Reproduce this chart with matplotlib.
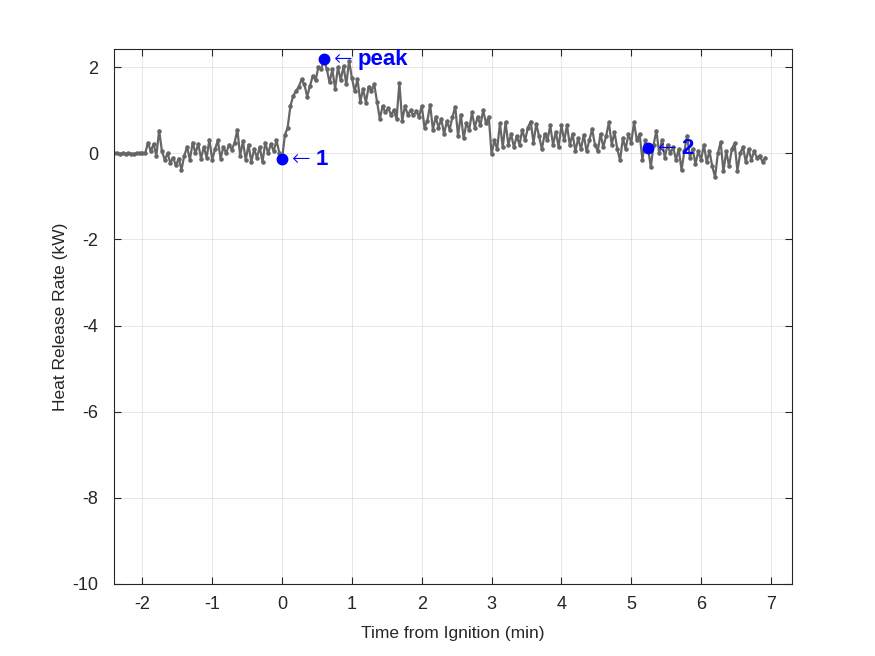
import numpy as np
import matplotlib.pyplot as plt

plt.rcParams['font.family'] = ['Liberation Sans', 'DejaVu Sans']
plt.rcParams['axes.unicode_minus'] = False

# sampling of the record (min)
t_start = -2.40
dt = 0.04

# heat release rate (kW), split by time span
hrr_pre = [0.0, 0.0, -0.01, 0.0, -0.01, 0.0, -0.01, -0.01, 0.0, 0.0, 0.01, 0.0,
           0.25, 0.05, 0.22, -0.05, 0.53, 0.05, -0.15, 0.0, -0.22, -0.1, -0.28, -0.12,
           -0.38, -0.05, 0.15, -0.15, 0.25, 0.0, 0.22, -0.12, 0.15, -0.1, 0.32, -0.15,
           0.1, 0.3, -0.12, 0.15, 0.0, 0.2, 0.08, 0.25, 0.55, -0.05, 0.28, -0.15,
           0.2, -0.2, 0.1, -0.1, 0.15, -0.2, 0.25, 0.0, 0.22, 0.05, 0.3, 0.02]
hrr_fire = [-0.13, 0.42, 0.6, 1.1, 1.34, 1.45, 1.55, 1.72, 1.6, 1.32, 1.57, 1.8,
            1.7, 2.0, 1.96, 2.19, 1.96, 1.65, 1.95, 1.5, 2.0, 1.7, 2.03, 1.6,
            2.15, 1.75, 1.45, 1.72, 1.2, 1.5, 1.18, 1.55, 1.45, 1.6, 1.2, 0.8,
            1.1, 0.95, 1.05, 0.9, 1.0, 0.8, 1.64, 0.75, 1.1, 0.9, 1.0, 0.88,
            0.98, 0.85]
hrr_decay = [1.1, 0.6, 0.75, 1.13, 0.55, 0.85, 0.6, 0.8, 0.45, 0.75, 0.55, 0.85,
             1.08, 0.4, 0.9, 0.35, 0.7, 0.55, 0.95, 0.6, 0.85, 0.65, 1.0, 0.7,
             0.85, -0.02, 0.3, 0.1, 0.7, 0.14, 0.72, 0.2, 0.45, 0.14, 0.4, 0.2,
             0.55, 0.3, 0.6, 0.74, 0.25, 0.68, 0.4, 0.1, 0.45, 0.3, 0.65, 0.2,
             0.5, 0.15, 0.65, 0.3, 0.65, 0.2, 0.45, 0.05, 0.35, 0.1, 0.43, 0.05,
             0.3, 0.57, 0.2, 0.05, 0.45, 0.15, 0.4, 0.72, 0.2, 0.5, 0.1, -0.16,
             0.35, 0.1, 0.45, 0.25, 0.72, 0.3, 0.45, -0.15, 0.3]
hrr_end = [0.13, -0.32, 0.2, 0.53, 0.0, 0.3, -0.1, 0.2, 0.0, 0.15, -0.15, 0.1,
           -0.39, 0.05, 0.41, -0.1, 0.1, -0.25, 0.05, -0.15, 0.2, -0.2, 0.05, -0.3,
           -0.55, 0.0, 0.26, -0.42, 0.05, -0.3, 0.1, 0.23, -0.4, 0.0, 0.15, -0.2,
           0.1, -0.15, 0.05, -0.1, -0.05, -0.2, -0.1]

hrr = np.array(hrr_pre + hrr_fire + hrr_decay + hrr_end)
t = t_start + dt * np.arange(len(hrr))

# marked points: ignition, peak, end of flaming
mark_idx = [len(hrr_pre), len(hrr_pre) + 15, len(hrr_pre) + len(hrr_fire) + len(hrr_decay)]
mark_lbl = ['1', 'peak', '2']

fig = plt.figure(figsize=(8.75, 6.56), dpi=100)
ax = fig.add_axes([0.13, 0.11, 0.775, 0.815])

ax.plot(t, hrr, '.-', color='#666666', lw=1.6, ms=4.5, zorder=2)
for i, s in zip(mark_idx, mark_lbl):
    ax.plot(t[i], hrr[i], 'o', color='blue', ms=7.5, zorder=3)
    ax.annotate('\u2190', (t[i], hrr[i]), xytext=(7, 0), textcoords='offset points',
                color='blue', fontsize=16, va='center', ha='left', zorder=4,
                family='DejaVu Sans', fontweight='light')
    ax.annotate(s, (t[i], hrr[i]), xytext=(24, -0.5), textcoords='offset points',
                color='blue', fontsize=16, fontweight='bold', va='center', ha='left', zorder=4)

ax.set_xlim(-2.41, 7.30)
ax.set_ylim(-10, 2.42)
ax.set_xticks(np.arange(-2, 8, 1))
ax.set_yticks(np.arange(-10, 3, 2))
ax.grid(True, color='#262626', alpha=0.13, lw=0.6)
ax.set_axisbelow(True)
ax.tick_params(direction='in', top=True, right=True, labelsize=13, colors='#262626', length=5)
ax.tick_params(axis='x', pad=9)
ax.tick_params(axis='y', pad=11)
for sp in ax.spines.values():
    sp.set_color('#262626')
    sp.set_linewidth(0.8)

ax.set_xlabel('Time from Ignition (min)', fontsize=12.5, color='#262626', labelpad=9)
ax.set_ylabel('Heat Release Rate (kW)', fontsize=12.5, color='#262626', labelpad=3)

fig.savefig('out.png', dpi=100)
